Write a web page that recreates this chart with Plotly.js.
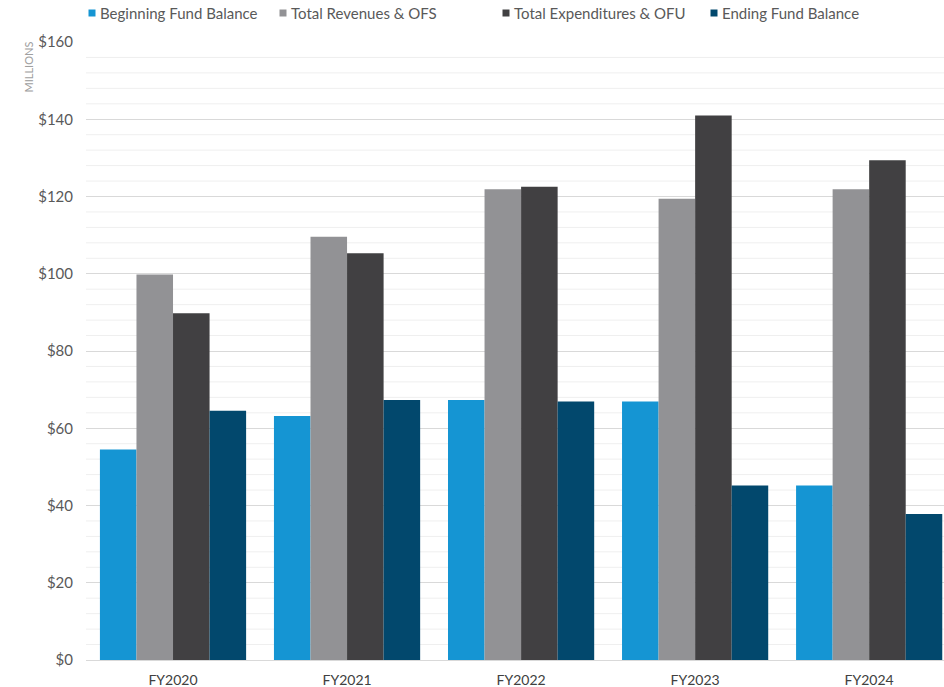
<!DOCTYPE html>
<html>
<head>
<meta charset="utf-8">
<script src="https://cdn.plot.ly/plotly-3.0.1.min.js"></script>
<style>html,body{margin:0;padding:0;background:#fff;}#chart{width:944px;height:687px;}</style>
</head>
<body>
<div id="chart"></div>
<script>
const categories = ["FY2020", "FY2021", "FY2022", "FY2023", "FY2024"];
const seriesNames = ["Beginning Fund Balance", "Total Revenues & OFS", "Total Expenditures & OFU", "Ending Fund Balance"];
const beginning = [54.5, 63.2, 67.3, 66.9, 45.2];
const revenues = [99.8, 109.6, 121.9, 119.4, 121.9];
const expenditures = [89.8, 105.3, 122.5, 141.0, 129.4];
const ending = [64.5, 67.3, 66.9, 45.2, 37.8];
const yTickVals = [0, 20, 40, 60, 80, 100, 120, 140, 160];
const yTickText = ["$0", "$20", "$40", "$60", "$80", "$100", "$120", "$140", "$160"];
const colors = ["#1595d3", "#929295", "#414042", "#02486d"];

const allValues = [beginning, revenues, expenditures, ending];
const traces = allValues.map((vals, i) => ({
  type: "bar",
  name: seriesNames[i],
  x: categories,
  y: vals,
  marker: { color: colors[i], line: { width: 0 } },
  hoverinfo: "x+y+name",
  showlegend: false
}));

// plot area geometry (pixels) used to place the custom legend
const W = 944, H = 687, ML = 86, MR = 0, MT = 42, MB = 27;
const pw = W - ML - MR, ph = H - MT - MB;
const px2x = p => (p - ML) / pw;
const py2y = p => (H - MB - p) / ph;

// minor grid lines every 4
const shapes = [];
for (let v = 4; v < 160; v += 4) {
  if (v % 20 === 0) continue;
  shapes.push({ type: "line", xref: "paper", x0: 0, x1: 1, yref: "y", y0: v, y1: v,
    line: { color: "#efefef", width: 1 }, layer: "below" });
}

const annotations = [{
  text: "MILLIONS", textangle: -90, xref: "paper", yref: "paper",
  x: px2x(28), y: py2y(40), xanchor: "center", yanchor: "top",
  showarrow: false, font: { size: 11, color: "#a0a0a0" }
}];

// custom legend: small square right beside the text
const legendX = [92, 283, 506, 714];
const legendY = 13;
seriesNames.forEach((name, i) => {
  shapes.push({
    type: "rect", xref: "paper", yref: "paper",
    xsizemode: "pixel", ysizemode: "pixel",
    xanchor: px2x(legendX[i]), yanchor: py2y(legendY),
    x0: -3.5, x1: 3.5, y0: -3.5, y1: 3.5,
    fillcolor: colors[i], line: { width: 0 }
  });
  annotations.push({
    text: name, xref: "paper", yref: "paper",
    x: px2x(legendX[i] + 6), y: py2y(legendY),
    xanchor: "left", yanchor: "middle", showarrow: false,
    font: { size: 15, color: "#595959" }
  });
});

const layout = {
  width: W, height: H,
  margin: { l: ML, r: MR, t: MT, b: MB },
  paper_bgcolor: "#ffffff", plot_bgcolor: "#ffffff",
  font: { family: "Lato, 'Open Sans', sans-serif", size: 14, color: "#595959" },
  barmode: "group",
  bargap: 0.16,
  bargroupgap: 0,
  xaxis: {
    type: "category",
    range: [-0.5, 4.43],
    showgrid: false, zeroline: false, showline: false,
    ticks: "", tickfont: { size: 14, color: "#404040" },
    ticklabelstandoff: 10
  },
  yaxis: {
    range: [0, 160],
    tickvals: yTickVals, ticktext: yTickText,
    showgrid: true, gridcolor: "#d9d9d9", gridwidth: 1,
    zeroline: true, zerolinecolor: "#d9d9d9", zerolinewidth: 1,
    showline: false, ticks: "",
    tickfont: { size: 15, color: "#595959" },
    ticklabelstandoff: 12
  },
  shapes: shapes,
  annotations: annotations,
  showlegend: false
};

Plotly.newPlot("chart", traces, layout, { displayModeBar: false });
</script>
</body>
</html>
